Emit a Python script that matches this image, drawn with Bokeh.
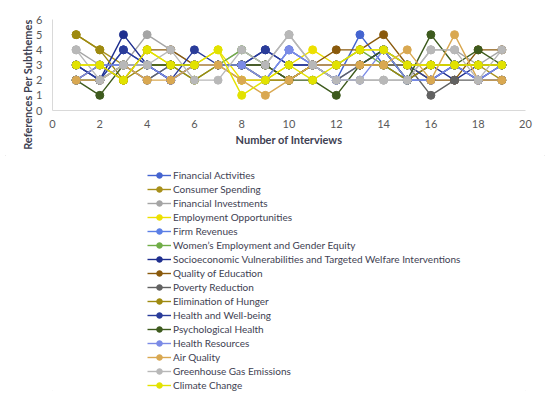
from bokeh.plotting import figure
from bokeh.models import Legend, LegendItem, Range1d, FixedTicker, Title
from bokeh.layouts import column
from bokeh.embed import file_html
from bokeh.resources import INLINE

interviews = list(range(1, 20))

series_names = [
    "Financial Activities", "Consumer Spending", "Financial Investments",
    "Employment Opportunities", "Firm Revenues",
    "Women\u2019s Employment and Gender Equity",
    "Socioeconomic Vulnerabilities and Targeted Welfare Interventions",
    "Quality of Education", "Poverty Reduction", "Elimination of Hunger",
    "Health and Well-being", "Psychological Health", "Health Resources",
    "Air Quality", "Greenhouse Gas Emissions", "Climate Change",
]

financial_activities = [3, 2, 4, 3, 2, 3, 3, 3, 2, 4, 3, 2, 5, 3, 2, 2, 3, 2, 2]
consumer_spending = [5, 4, 3, 3, 3, 3, 3, 2, 2, 2, 3, 3, 3, 3, 3, 3, 3, 3, 2]
financial_investments = [4, 3, 3, 5, 4, 3, 3, 4, 3, 5, 3, 2, 2, 2, 2, 4, 4, 3, 4]
employment_opportunities = [3, 3, 2, 4, 3, 3, 4, 2, 2, 3, 4, 3, 4, 4, 3, 3, 3, 3, 3]
firm_revenues = [2, 3, 3, 2, 3, 3, 3, 3, 2, 4, 3, 2, 3, 4, 2, 2, 3, 2, 3]
womens_employment = [2, 2, 3, 3, 3, 2, 3, 4, 3, 2, 3, 3, 4, 3, 2, 3, 3, 3, 3]
socioeconomic = [3, 2, 5, 3, 2, 3, 3, 3, 4, 3, 3, 3, 3, 4, 2, 3, 2, 3, 3]
quality_of_education = [2, 3, 2, 4, 4, 3, 3, 3, 3, 2, 3, 4, 4, 5, 3, 2, 2, 4, 4]
poverty_reduction = [2, 2, 3, 2, 3, 3, 3, 3, 3, 2, 3, 2, 3, 3, 3, 1, 2, 2, 2]
elimination_of_hunger = [5, 4, 2, 3, 3, 2, 3, 3, 2, 2, 3, 3, 3, 3, 2, 3, 3, 3, 3]
health_well_being = [3, 2, 4, 3, 2, 4, 3, 3, 4, 3, 3, 3, 3, 4, 3, 2, 3, 2, 3]
psychological_health = [2, 1, 3, 3, 3, 3, 3, 3, 3, 2, 2, 1, 3, 4, 2, 5, 3, 4, 3]
health_resources = [2, 3, 3, 3, 2, 3, 3, 3, 2, 4, 3, 2, 2, 4, 2, 2, 3, 2, 3]
air_quality = [2, 2, 3, 2, 2, 3, 3, 2, 1, 2, 3, 3, 3, 3, 4, 2, 5, 2, 2]
greenhouse_gas = [4, 2, 3, 3, 4, 2, 2, 4, 3, 5, 3, 2, 2, 2, 2, 4, 4, 2, 4]
climate_change = [3, 3, 2, 4, 3, 3, 4, 1, 2, 3, 2, 3, 4, 4, 3, 3, 3, 3, 3]

all_series = [
    financial_activities, consumer_spending, financial_investments,
    employment_opportunities, firm_revenues, womens_employment, socioeconomic,
    quality_of_education, poverty_reduction, elimination_of_hunger,
    health_well_being, psychological_health, health_resources, air_quality,
    greenhouse_gas, climate_change,
]

colors = [
    "#4464D0", "#A8901A", "#A5A5A5", "#EDE000", "#5B7FE6", "#70AD47",
    "#1F2F8F", "#8A5A0C", "#626262", "#9E8A10", "#2A3C9A", "#3E5B1E",
    "#7B8BE6", "#D9A851", "#B8B8B8", "#E2E200",
]

FONT = "Lato"
TXT = "#595959"
DARK = "#3E4152"

# ---- main chart ----
p = figure(width=550, height=155, output_backend="svg", toolbar_location=None,
           x_range=Range1d(0, 20), y_range=Range1d(0, 6),
           min_border_left=52, min_border_right=25, min_border_top=19,
           min_border_bottom=45)
p.outline_line_color = None
p.xgrid.grid_line_color = None
p.ygrid.grid_line_color = None

for vals, col in zip(all_series, colors):
    p.line(interviews, vals, line_color=col, line_width=1.4)
    p.scatter(interviews, vals, size=8, fill_color=col, line_color=col)

p.xaxis.ticker = FixedTicker(ticks=list(range(0, 21, 2)))
p.yaxis.ticker = FixedTicker(ticks=list(range(0, 7)))
for ax in (p.xaxis[0], p.yaxis[0]):
    ax.major_tick_line_color = None
    ax.minor_tick_line_color = None
    ax.major_tick_out = 0
    ax.major_tick_in = 0
    ax.axis_line_color = "#D9D9D9"
    ax.major_label_text_font = FONT
    ax.major_label_text_font_size = "11px"
    ax.major_label_text_color = TXT
    ax.axis_label_text_font = FONT
    ax.axis_label_text_font_size = "11px"
    ax.axis_label_text_font_style = "bold"
    ax.axis_label_text_color = DARK
p.xaxis.axis_label = "Number of Interviews"
p.xaxis.major_label_standoff = 9
p.xaxis.axis_label_standoff = 2
p.yaxis.major_label_standoff = 10

ytitle = Title(text="References Per Subthemes", align="right",
               text_font=FONT, text_font_size="11px", text_font_style="bold",
               text_color=DARK, standoff=0)
p.add_layout(ytitle, "left")

# ---- legend panel ----
lg = figure(width=550, height=241, output_backend="svg", toolbar_location=None,
            x_range=Range1d(100, 101), y_range=Range1d(100, 101),
            x_axis_type=None, y_axis_type=None, min_border=0)
lg.outline_line_color = None
lg.xgrid.grid_line_color = None
lg.ygrid.grid_line_color = None

items = []
for name, vals, col in zip(series_names, all_series, colors):
    r1 = lg.line(interviews, vals, line_color=col, line_width=1.4)
    r2 = lg.scatter(interviews, vals, size=8, fill_color=col, line_color=col)
    items.append(LegendItem(label=name, renderers=[r1, r2]))

legend = Legend(items=items, location=(95, 4), orientation="vertical",
                label_text_font=FONT, label_text_font_size="10px",
                label_text_color=DARK, glyph_width=24, glyph_height=14,
                label_height=14, spacing=0, padding=0, margin=0,
                label_standoff=2, border_line_color=None,
                background_fill_alpha=0)
lg.add_layout(legend, "center")

layout = column(p, lg, spacing=0,
                styles={"outline": "1px solid #E6E6E6", "outline-offset": "-6px"})
open("out.html", "w").write(file_html(layout, INLINE))
